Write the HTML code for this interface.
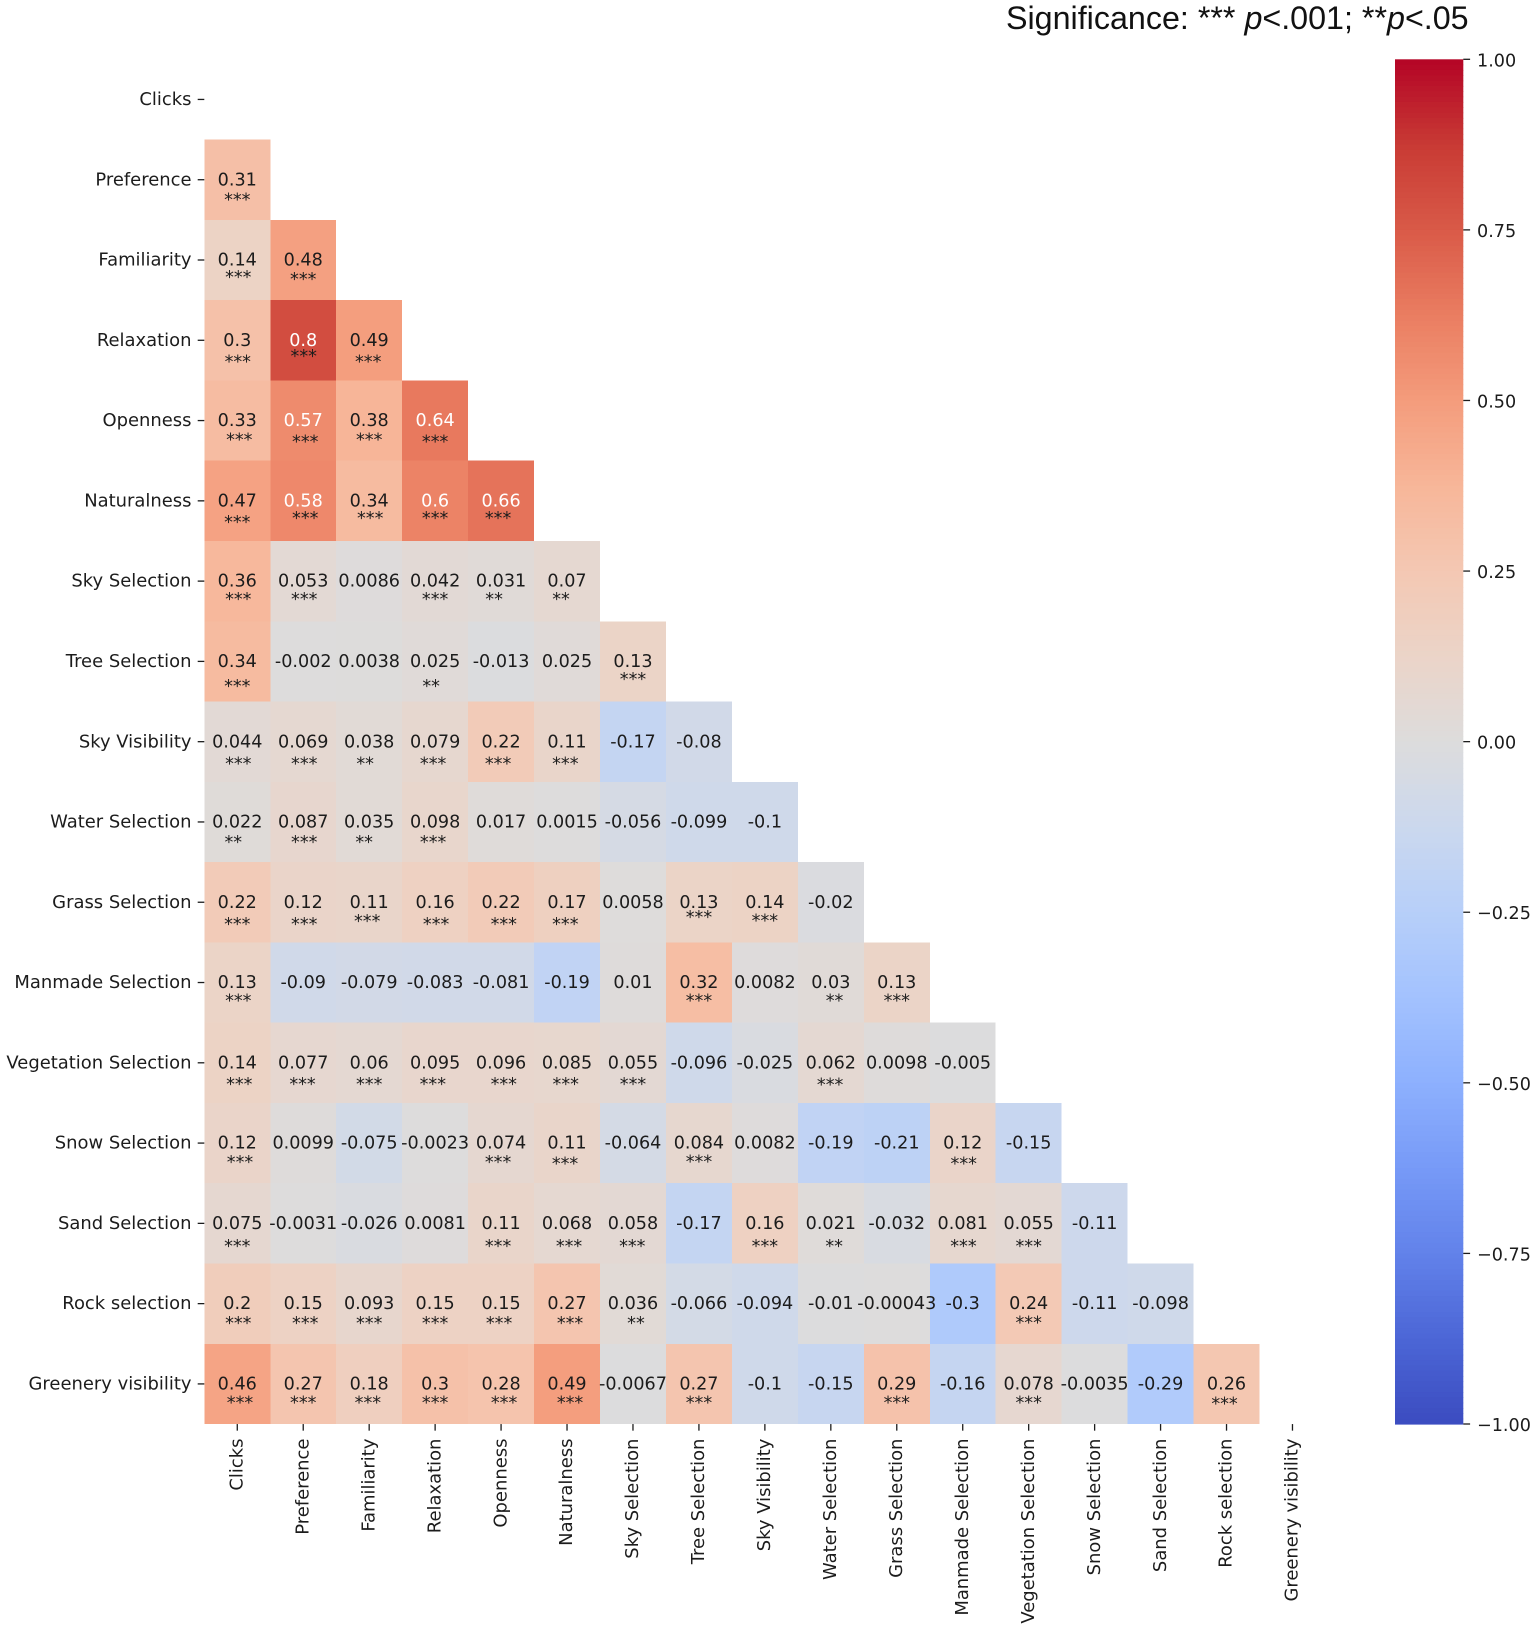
<!DOCTYPE html>
<html lang="en">
<head>
<meta charset="utf-8">
<title>Correlation heatmap</title>
<style>
  html, body { margin: 0; padding: 0; background: #fff; }
  #chart { display: block; width: 1535px; height: 1628px; filter: blur(0.35px); }
  text { font-family: "DejaVu Sans", sans-serif; font-size: 17.6px; fill: #1c1c1c; }
  .axis-label { font-size: 17.95px; }
  #chart-title { font-family: "Liberation Sans", Arial, sans-serif; font-size: 32.25px; fill: #111; }
</style>
</head>
<body>
<svg id="chart" xmlns="http://www.w3.org/2000/svg" width="1535" height="1628" viewBox="0 0 1535 1628">
  <rect width="1535" height="1628" fill="#ffffff"/>
  <text id="chart-title" x="1006" y="29">Significance: *** <tspan font-style="italic">p</tspan>&lt;.001; **<tspan font-style="italic">p</tspan>&lt;.05</text>
  <g id="cells"></g>
  <g id="annotations"></g>
  <g id="y-axis"></g>
  <g id="x-axis"></g>
  <g id="colorbar"></g>
</svg>
<script>
const categories = ["Clicks", "Preference", "Familiarity", "Relaxation", "Openness", "Naturalness", "Sky Selection", "Tree Selection", "Sky Visibility", "Water Selection", "Grass Selection", "Manmade Selection", "Vegetation Selection", "Snow Selection", "Sand Selection", "Rock selection", "Greenery visibility"];

const correlations = [
  [],
  [0.31],
  [0.14, 0.48],
  [0.3, 0.8, 0.49],
  [0.33, 0.57, 0.38, 0.64],
  [0.47, 0.58, 0.34, 0.6, 0.66],
  [0.36, 0.053, 0.0086, 0.042, 0.031, 0.07],
  [0.34, -0.002, 0.0038, 0.025, -0.013, 0.025, 0.13],
  [0.044, 0.069, 0.038, 0.079, 0.22, 0.11, -0.17, -0.08],
  [0.022, 0.087, 0.035, 0.098, 0.017, 0.0015, -0.056, -0.099, -0.1],
  [0.22, 0.12, 0.11, 0.16, 0.22, 0.17, 0.0058, 0.13, 0.14, -0.02],
  [0.13, -0.09, -0.079, -0.083, -0.081, -0.19, 0.01, 0.32, 0.0082, 0.03, 0.13],
  [0.14, 0.077, 0.06, 0.095, 0.096, 0.085, 0.055, -0.096, -0.025, 0.062, 0.0098, -0.005],
  [0.12, 0.0099, -0.075, -0.0023, 0.074, 0.11, -0.064, 0.084, 0.0082, -0.19, -0.21, 0.12, -0.15],
  [0.075, -0.0031, -0.026, 0.0081, 0.11, 0.068, 0.058, -0.17, 0.16, 0.021, -0.032, 0.081, 0.055, -0.11],
  [0.2, 0.15, 0.093, 0.15, 0.15, 0.27, 0.036, -0.066, -0.094, -0.01, -0.00043, -0.3, 0.24, -0.11, -0.098],
  [0.46, 0.27, 0.18, 0.3, 0.28, 0.49, -0.0067, 0.27, -0.1, -0.15, 0.29, -0.16, 0.078, -0.0035, -0.29, 0.26]
];

const significanceStars = [
  [],
  [3],
  [3, 3],
  [3, 3, 3],
  [3, 3, 3, 3],
  [3, 3, 3, 3, 3],
  [3, 3, 0, 3, 2, 2],
  [3, 0, 0, 2, 0, 0, 3],
  [3, 3, 2, 3, 3, 3, 0, 0],
  [2, 3, 2, 3, 0, 0, 0, 0, 0],
  [3, 3, 3, 3, 3, 3, 0, 3, 3, 0],
  [3, 0, 0, 0, 0, 0, 0, 3, 0, 2, 3],
  [3, 3, 3, 3, 3, 3, 3, 0, 0, 3, 0, 0],
  [3, 0, 0, 0, 3, 3, 0, 3, 0, 0, 0, 3, 0],
  [3, 0, 0, 0, 3, 3, 3, 0, 3, 2, 0, 3, 3, 0],
  [3, 3, 3, 3, 3, 3, 2, 0, 0, 0, 0, 0, 3, 0, 0],
  [3, 3, 3, 3, 3, 3, 0, 3, 0, 0, 3, 0, 3, 0, 0, 3]
];

const colorbarTicks = [1, 0.75, 0.5, 0.25, 0, -0.25, -0.5, -0.75, -1];
const colorbarTickLabels = ["1.00", "0.75", "0.50", "0.25", "0.00", "\u22120.25", "\u22120.50", "\u22120.75", "\u22121.00"];

const SVG_NS = "http://www.w3.org/2000/svg";
const plot = { left: 204.3, top: 59.3, cellW: 65.95, cellH: 80.28 };
const bar = { left: 1395, right: 1463.3, top: 59.3, bottom: 1424 };
const vMin = -1;
const vMax = 1;

function xCell(col) { return plot.left + col * plot.cellW; }
function yCell(row) { return plot.top + row * plot.cellH; }
function xCenter(col) { return xCell(col) + plot.cellW / 2; }
function yCenter(row) { return yCell(row) + plot.cellH / 2; }
function yBar(v) { return bar.bottom - (v - vMin) / (vMax - vMin) * (bar.bottom - bar.top); }

function colormap(v) {
  const stops = [
    [0, "3b4cc0"], [0.0625, "4c66d6"], [0.125, "6282ea"], [0.1875, "779af7"], [0.25, "8db0fe"],
    [0.3125, "a3c2fe"], [0.375, "b7cff9"], [0.4375, "cbd8ee"], [0.5, "dddcdc"], [0.5625, "ebd4c8"],
    [0.625, "f4c8b3"], [0.6875, "f7b699"], [0.75, "f49c7c"], [0.8125, "ea7d61"], [0.875, "d95a48"],
    [0.9375, "c83a34"], [1, "b40426"]
  ];
  const t = Math.max(0, Math.min(1, (v - vMin) / (vMax - vMin)));
  for (let i = 1; i < stops.length; i++) {
    if (t <= stops[i][0]) {
      const a = stops[i - 1];
      const b = stops[i];
      const f = (t - a[0]) / (b[0] - a[0]);
      const out = [0, 2, 4].map(function (k) {
        const ca = parseInt(a[1].substr(k, 2), 16);
        const cb = parseInt(b[1].substr(k, 2), 16);
        return Math.round(ca + (cb - ca) * f);
      });
      return "rgb(" + out.join(",") + ")";
    }
  }
  return "#b40426";
}

function make(parent, tag, attrs, txt) {
  const el = document.createElementNS(SVG_NS, tag);
  Object.keys(attrs).forEach(function (k) { el.setAttribute(k, attrs[k]); });
  if (txt !== undefined) el.textContent = txt;
  parent.appendChild(el);
  return el;
}

// Hand-placed star annotations drift from the cell centre: [dx, dy] from the printed value.
function starNudge(r, c) {
  const nudges = {
    1: {0: [0, 17.7]},
    2: {0: [1, 14.7], 1: [0, 16.7]},
    3: {0: [0.5, 19.3], 1: [0.5, 13.7], 2: [-1, 19.3]},
    4: {0: [2, 17], 1: [2, 18.7], 2: [0, 17], 3: [0, 18.7]},
    5: {0: [0, 19], 1: [2, 15.3], 2: [1, 15.3], 3: [0, 15.3], 4: [-3, 15.3]},
    6: {0: [1, 16], 1: [1, 16], 3: [0, 16], 4: [-7, 16], 5: [-6, 16]},
    7: {0: [0, 22.3], 3: [-4, 22.3], 6: [0, 15.3]},
    8: {0: [1, 19.7], 1: [1, 19.7], 2: [-4, 19.7], 3: [-2, 19.7], 4: [-3, 19.7], 5: [-1.7, 19.7]},
    9: {0: [-4, 18], 1: [1, 18], 2: [-5, 18], 3: [-2, 18]},
    10: {0: [0, 19.7], 1: [1, 19.7], 2: [-2, 16.7], 3: [1, 19.7], 4: [2.7, 19.7], 5: [-1.7, 19.7], 7: [0, 12.7], 8: [0, 16]},
    11: {0: [1, 16], 7: [0, 16], 9: [3.7, 16], 10: [0, 16]},
    12: {0: [2, 19.3], 1: [-0.7, 19.3], 2: [0, 19.3], 3: [-2.3, 19.3], 4: [2.7, 19.3], 5: [-1.3, 19.3], 6: [0, 19.3], 9: [-0.7, 19.7]},
    13: {0: [2.7, 16.7], 4: [-3, 16.7], 5: [-2, 18.3], 7: [0, 16.3], 11: [1, 18.3]},
    14: {0: [0, 20.7], 4: [-3, 20.7], 5: [2, 20.7], 6: [-0.7, 20.7], 8: [0, 20.7], 9: [3.3, 20.7], 11: [0.7, 20.7], 12: [0, 20.7]},
    15: {0: [1, 17.3], 1: [2, 17.3], 2: [0, 17.3], 3: [0, 17.3], 4: [-2, 17.3], 5: [3, 17.3], 6: [3, 17.3], 12: [0, 16.7]},
    16: {0: [2.7, 16.7], 1: [0, 16.7], 2: [-1.3, 16.7], 3: [0, 16.7], 4: [3, 16.7], 5: [3, 16.7], 7: [0, 16.7], 10: [0, 16.7], 12: [0, 16.7], 15: [-2, 17.3]}
  };
  return (nudges[r] && nudges[r][c]) || [0, 17];
}

const cellsG = document.getElementById("cells");
const annotG = document.getElementById("annotations");
correlations.forEach(function (row, r) {
  row.forEach(function (v, c) {
    const cell = make(cellsG, "rect", {
      x: xCell(c), y: yCell(r), width: plot.cellW, height: plot.cellH,
      fill: colormap(v), "shape-rendering": "crispEdges"
    });
    
    

    const label = make(annotG, "text", {
      x: xCenter(c), y: yCenter(r) + 5.6, "text-anchor": "middle",
      style: v >= 0.55 ? "fill:#ffffff" : ""
    }, String(v));
    
    

    const n = significanceStars[r][c];
    if (n > 0) {
      const nudge = starNudge(r, c);
      const stars = make(annotG, "text", {
        x: xCenter(c) + nudge[0], y: yCenter(r) - 0.7 + nudge[1] + 8.8, "text-anchor": "middle"
      }, "*".repeat(n));
      
      
    }
  });
});

const yG = document.getElementById("y-axis");
const xG = document.getElementById("x-axis");
categories.forEach(function (name, i) {
  const yTick = make(yG, "line", {
    x1: plot.left - 6.6, x2: plot.left, y1: yCenter(i), y2: yCenter(i),
    stroke: "#1c1c1c", "stroke-width": 1.3
  });
  
  

  const yLabel = make(yG, "text", {
    x: 191.5, y: yCenter(i) + 5.6, "text-anchor": "end", "class": "axis-label"
  }, name);
  
  

  const axisBottom = yCell(categories.length);
  const xTick = make(xG, "line", {
    x1: xCenter(i), x2: xCenter(i), y1: axisBottom, y2: axisBottom + 6.6,
    stroke: "#1c1c1c", "stroke-width": 1.3
  });
  
  

  const lx = xCenter(i) + 5.2;
  const ly = axisBottom + 14.5;
  const xLabel = make(xG, "text", {
    x: lx, y: ly, "text-anchor": "end", "class": "axis-label",
    transform: "rotate(-90 " + lx + " " + ly + ")"
  }, name);
  
  
});

const barG = document.getElementById("colorbar");
const barSteps = 256;
for (let i = 0; i < barSteps; i++) {
  const hi = vMax - (vMax - vMin) * i / barSteps;
  const lo = vMax - (vMax - vMin) * (i + 1) / barSteps;
  const seg = make(barG, "rect", {
    x: bar.left, y: yBar(hi), width: bar.right - bar.left, height: yBar(lo) - yBar(hi) + 0.6,
    fill: colormap((hi + lo) / 2)
  });
  
  
}
colorbarTicks.forEach(function (v, i) {
  const tick = make(barG, "line", {
    x1: bar.right, x2: bar.right + 6.8, y1: yBar(v), y2: yBar(v),
    stroke: "#1c1c1c", "stroke-width": 1.3
  });
  
  

  const lab = make(barG, "text", { x: 1477, y: yBar(v) + 7 }, colorbarTickLabels[i]);
  
  
});
</script>
</body>
</html>
